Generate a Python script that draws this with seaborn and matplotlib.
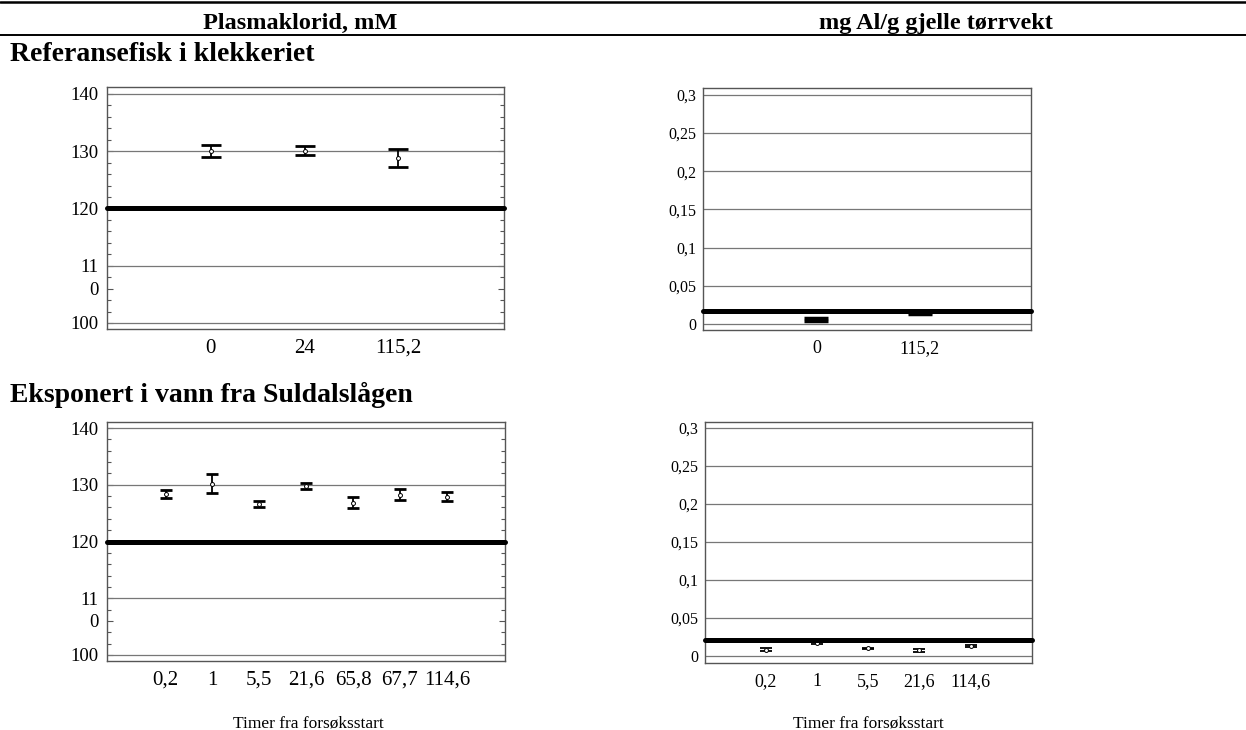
import numpy as np
import matplotlib
matplotlib.use("Agg")
import matplotlib.pyplot as plt
import seaborn as sns
from matplotlib.lines import Line2D
from matplotlib.ticker import MultipleLocator

# ---------------- data ----------------
tl_labels = ["0", "24", "115,2"]
tl_mean = [130.0, 130.1, 128.8]
tl_err = [1.1, 0.8, 1.6]

tr_labels = ["0", "115,2"]
tr_mean = [0.006, 0.014]
tr_err = [0.0015, 0.0012]

bl_labels = ["0,2", "1", "5,5", "21,6", "65,8", "67,7", "114,6"]
bl_mean = [128.3, 130.2, 126.6, 129.8, 126.85, 128.25, 127.9]
bl_err = [0.7, 1.7, 0.6, 0.5, 0.95, 0.95, 0.8]

br_labels = ["0,2", "1", "5,5", "21,6", "114,6"]
br_mean = [0.008, 0.017, 0.010, 0.007, 0.013]
br_err = [0.0018, 0.0015, 0.0008, 0.0015, 0.0012]

ref_line_left = [120, 120]          # top, bottom
ref_line_right = [0.017, 0.021]     # top, bottom

cl_ticks = [100, 106, 110, 120, 130, 140]
cl_ticklabels = ["100", "0", "11", "120", "130", "140"]
al_ticks = [0, 0.05, 0.1, 0.15, 0.2, 0.25, 0.3]
al_ticklabels = ["0", "0,05", "0,1", "0,15", "0,2", "0,25", "0,3"]

col_titles = ["Plasmaklorid, mM", "mg Al/g gjelle tørrvekt"]
row_titles = ["Referansefisk i klekkeriet", "Eksponert i vann fra Suldalslågen"]
xlabel = "Timer fra forsøksstart"

# ---------------- style ----------------
sns.set_style("white")
plt.rcParams["font.family"] = ["Liberation Serif", "DejaVu Serif"]
plt.rcParams["text.color"] = "black"
plt.rcParams["xtick.color"] = "black"
plt.rcParams["ytick.color"] = "black"
plt.rcParams["xtick.labelcolor"] = "black"
plt.rcParams["ytick.labelcolor"] = "black"

fig = plt.figure(figsize=(12.46, 7.30), dpi=100)
W, H = 1246, 730

def ax_at(l, t, r, b):
    return fig.add_axes([l / W, 1 - b / H, (r - l) / W, (b - t) / H])

ax_tl = ax_at(107, 87, 504, 329)
ax_tr = ax_at(703, 88, 1031, 330)
ax_bl = ax_at(107, 422, 505, 661)
ax_br = ax_at(705, 422, 1032, 663)

def draw(ax, labels, mean, err, ref, xlim, ylim, capsize, left=True,
         cap_lw=2.0, e_lw=1.3, mfc="white", xfs=15):
    x = np.arange(len(labels))
    ax.errorbar(x, mean, yerr=err, fmt="none", ecolor="black",
                elinewidth=e_lw, capsize=capsize, capthick=cap_lw, zorder=4)
    sns.scatterplot(x=x, y=mean, ax=ax, marker="o", s=8, color=mfc,
                    edgecolor="black", linewidth=0.7, zorder=5, legend=False)
    ax.axhline(ref, color="black", lw=3.6, solid_capstyle="round",
               clip_on=False, zorder=6)
    ax.set_xlim(*xlim)
    ax.set_ylim(*ylim)
    ax.set_xticks(x)
    ax.set_xticklabels(labels, fontsize=xfs, color="black")
    ax.tick_params(axis="x", length=0, pad=7)
    for s in ax.spines.values():
        s.set_color("#555555")
        s.set_linewidth(1.0)
    if left:
        ax.set_yticks(cl_ticks)
        ax.set_yticklabels(cl_ticklabels, fontsize=13.5, color="black")
        ax.yaxis.set_minor_locator(MultipleLocator(2))
        ax.tick_params(axis="y", which="both", direction="in", left=True,
                       right=True, color="#555555", width=0.8, pad=6)
        ax.tick_params(axis="y", which="major", length=4)
        ax.tick_params(axis="y", which="minor", length=3)
        for v, lab in zip(cl_ticks, cl_ticklabels):
            if lab not in ("0", "120"):
                ax.axhline(v, color="#777777", lw=0.9, zorder=1)
    else:
        ax.set_yticks(al_ticks)
        ax.set_yticklabels(al_ticklabels, fontsize=11.5, color="black")
        ax.tick_params(axis="y", length=0, pad=5)
        for v in al_ticks:
            ax.axhline(v, color="#777777", lw=0.9, zorder=1)
    ax.set_xlabel("")
    ax.set_ylabel("")

draw(ax_tl, tl_labels, tl_mean, tl_err, ref_line_left[0], (-1.11, 3.13), (98.95, 141.2), 7.2)
draw(ax_tr, tr_labels, tr_mean, tr_err, ref_line_right[0], (-1.1, 2.08), (-0.0079, 0.309), 8.3,
     left=False, cap_lw=2.5, e_lw=2, mfc="black", xfs=13)
draw(ax_bl, bl_labels, bl_mean, bl_err, ref_line_left[1], (-1.25, 7.24), (98.94, 141.06), 4.5)
draw(ax_br, br_labels, br_mean, br_err, ref_line_right[1], (-1.19, 5.2), (-0.0096, 0.308), 4.3,
     left=False, cap_lw=1.3, e_lw=1.0, xfs=13)

# ---------------- header & titles ----------------
fig.add_artist(Line2D([0, 1], [1 - 1.5 / H, 1 - 1.5 / H], color="black", lw=1.8))
fig.add_artist(Line2D([0, 1], [1 - 35 / H, 1 - 35 / H], color="black", lw=1.4))
fig.text(300 / W, 1 - 28.5 / H, col_titles[0], ha="center", va="baseline",
         fontsize=17.5, fontweight="bold", color="black")
fig.text(936 / W, 1 - 28.5 / H, col_titles[1], ha="center", va="baseline",
         fontsize=17.5, fontweight="bold", color="black")
fig.text(10 / W, 1 - 61 / H, row_titles[0], ha="left", va="baseline",
         fontsize=20, fontweight="bold", color="black")
fig.text(10 / W, 1 - 402 / H, row_titles[1], ha="left", va="baseline",
         fontsize=20, fontweight="bold", color="black")
fig.text(308 / W, 1 - 727 / H, xlabel, ha="center", va="baseline", fontsize=12.5,
         color="black")
fig.text(868 / W, 1 - 728 / H, xlabel, ha="center", va="baseline", fontsize=12.5,
         color="black")

fig.savefig("out.png", dpi=100)
